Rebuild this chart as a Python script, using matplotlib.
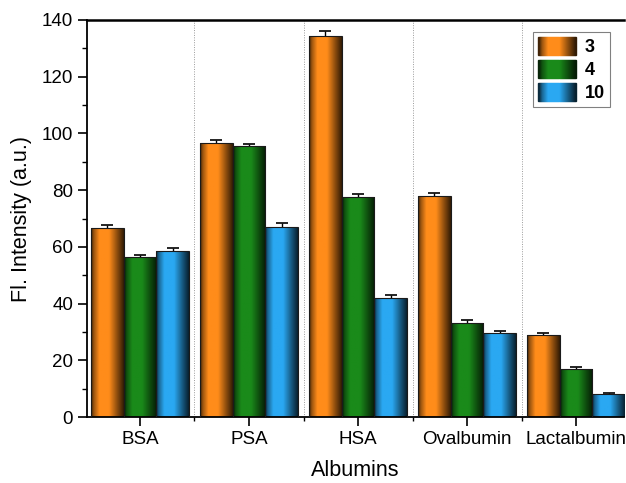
import numpy as np
import matplotlib.pyplot as plt
from matplotlib.patches import Patch
from matplotlib.legend_handler import HandlerTuple
from matplotlib.ticker import MultipleLocator, FixedLocator
from matplotlib.colors import to_rgb

plt.rcParams['font.family'] = ['Liberation Sans', 'DejaVu Sans']

albumins = ["BSA", "PSA", "HSA", "Ovalbumin", "Lactalbumin"]
series = ["3", "4", "10"]
vals_3 = [66.5, 96.5, 134.5, 78.0, 29.0]
vals_4 = [56.5, 95.5, 77.5, 33.0, 17.0]
vals_10 = [58.5, 67.0, 42.0, 29.5, 8.0]
err_3 = [1.3, 1.2, 1.6, 1.1, 0.6]
err_4 = [0.8, 0.9, 1.2, 1.1, 0.5]
err_10 = [1.1, 1.5, 1.1, 0.9, 0.3]
colors = ["#ff8c1a", "#1a8a1a", "#2aa8f2"]

# horizontal shading profile for the "cylinder" look of each bar
prof_x = [0.0, 0.08, 0.25, 0.55, 0.8, 1.0]
prof_y = [0.25, 0.6, 1.0, 1.0, 0.55, 0.2]


def shade(color, n=64):
    t = np.linspace(0, 1, n)
    k = np.interp(t, prof_x, prof_y)
    base = np.array(to_rgb(color))
    return (k[:, None] * base[None, :])[None, :, :]


fig = plt.figure(figsize=(6.26, 4.83), dpi=100)
ax = fig.add_axes([87 / 626, 66 / 483, 537 / 626, 397 / 483])

x = np.arange(len(albumins))
w = 0.30
data = [vals_3, vals_4, vals_10]
errs = [err_3, err_4, err_10]
handles = []
for i, (v, e, c) in enumerate(zip(data, errs, colors)):
    pos = x + (i - 1) * w
    ax.errorbar(pos, v, yerr=e, fmt="none", ecolor="black", elinewidth=1.0,
                capsize=4, capthick=1.2, zorder=1)
    bars = ax.bar(pos, v, width=w, facecolor="none", edgecolor="#1a1a1a",
                  linewidth=0.8, zorder=3)
    img = shade(c)
    for b in bars:
        x0, y0 = b.get_x(), b.get_y()
        im = ax.imshow(img, extent=(x0, x0 + b.get_width(), y0, y0 + b.get_height()),
                       aspect="auto", interpolation="bilinear", zorder=2)
        im.set_clip_path(b)
    # legend swatch made of thin slices with the same shading
    cols = shade(c, 36)[0]
    handles.append(tuple(Patch(facecolor=cc, edgecolor=cc, linewidth=1.0) for cc in cols))

for b in np.arange(0.5, len(albumins) - 0.5, 1.0):
    ax.axvline(b, color="#9a9a9a", linestyle=(0, (1, 1.5)), linewidth=0.7, zorder=0)

ax.set_xlim(-0.486, 4.44)
ax.set_ylim(0, 140)
ax.set_xticks(x)
ax.set_xticklabels(albumins)
ax.xaxis.set_minor_locator(FixedLocator(np.arange(-0.5, len(albumins), 1.0)))
ax.yaxis.set_major_locator(MultipleLocator(20))
ax.yaxis.set_minor_locator(MultipleLocator(10))
ax.tick_params(axis="both", which="major", direction="out", length=6.5, width=1.2,
               labelsize=13.5, colors="black")
ax.tick_params(axis="both", which="minor", direction="out", length=3.5, width=1.0)
ax.tick_params(axis="x", which="minor", length=3)

for s in ["left", "bottom"]:
    ax.spines[s].set_linewidth(1.3)
ax.spines["top"].set_linewidth(1.8)
ax.spines["right"].set_visible(False)

ax.set_ylabel("Fl. Intensity (a.u.)", fontsize=15.5, labelpad=7)
ax.set_xlabel("Albumins", fontsize=15.5, labelpad=9)

leg = ax.legend(handles, series, handler_map={tuple: HandlerTuple(ndivide=None, pad=0)},
                loc="upper right", bbox_to_anchor=(0.974, 0.97),
                prop={"weight": "bold", "size": 13}, handlelength=2.1, handleheight=1.15,
                handletextpad=0.45, labelspacing=0.2, borderpad=0.3, borderaxespad=0,
                fancybox=False, framealpha=1, edgecolor="#808080")
leg.get_frame().set_linewidth(0.8)

fig.savefig("out.png", dpi=100)
